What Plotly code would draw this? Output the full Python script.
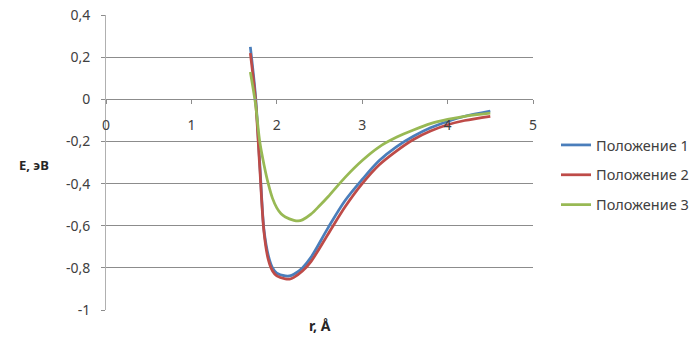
import plotly.graph_objects as go

# Data
r_1 = [1.69, 1.75, 1.80, 1.85, 1.90, 1.95, 2.00, 2.10, 2.15, 2.20, 2.30, 2.40, 2.60, 2.80, 3.00, 3.20, 3.40, 3.60, 3.80, 4.00, 4.20, 4.50]
e_1 = [0.25, 0.02, -0.30, -0.62, -0.74, -0.80, -0.825, -0.838, -0.838, -0.83, -0.80, -0.75, -0.61, -0.48, -0.38, -0.29, -0.225, -0.175, -0.135, -0.105, -0.08, -0.055]

r_2 = [1.69, 1.75, 1.80, 1.85, 1.90, 1.95, 2.00, 2.10, 2.15, 2.20, 2.30, 2.40, 2.60, 2.80, 3.00, 3.20, 3.40, 3.60, 3.80, 4.00, 4.20, 4.50]
e_2 = [0.22, 0.00, -0.32, -0.63, -0.76, -0.815, -0.838, -0.852, -0.853, -0.845, -0.815, -0.77, -0.64, -0.51, -0.40, -0.31, -0.245, -0.19, -0.15, -0.12, -0.10, -0.08]

r_3 = [1.69, 1.75, 1.80, 1.85, 1.90, 1.95, 2.00, 2.05, 2.10, 2.20, 2.25, 2.30, 2.40, 2.50, 2.60, 2.80, 3.00, 3.20, 3.40, 3.60, 3.80, 4.00, 4.20, 4.50]
e_3 = [0.13, -0.02, -0.20, -0.31, -0.40, -0.47, -0.515, -0.543, -0.558, -0.574, -0.577, -0.572, -0.545, -0.505, -0.462, -0.37, -0.29, -0.225, -0.18, -0.145, -0.115, -0.095, -0.08, -0.065]

series_names = ["Положение 1", "Положение 2", "Положение 3"]
series_colors = ["#4A7EBB", "#BE4B48", "#98B954"]

y_tick_vals = [0.4, 0.2, 0, -0.2, -0.4, -0.6, -0.8, -1]
y_tick_text = ["0,4", "0,2", "0", "-0,2", "-0,4", "-0,6", "-0,8", "-1"]
x_tick_vals = [0, 1, 2, 3, 4, 5]
x_tick_text = ["0", "1", "2", "3", "4", "5"]

x_title = "r, Å"
y_title = "E, эВ"

fig = go.Figure()
for i, (rx, ey) in enumerate([(r_1, e_1), (r_2, e_2), (r_3, e_3)]):
    fig.add_trace(go.Scatter(
        x=rx, y=ey, mode="lines", name=series_names[i],
        line=dict(color=series_colors[i], width=2.75, shape="spline", smoothing=0.9),
        legendgroup=f"g{i}",
    ))

font_family = "Noto Sans, Open Sans, sans-serif"
grid_col = "#8c8c8c"
text_col = "#404040"

W, H = 700, 339
L, R, T, B = 106, 167, 15, 29
pw, ph = W - L - R, H - T - B

def px_x(page_x):
    return (page_x - L) / pw

def px_y(page_y):
    return (H - B - page_y) / ph

fig.update_layout(
    width=W, height=H,
    margin=dict(l=L, r=R, t=T, b=B, autoexpand=False),
    paper_bgcolor="white", plot_bgcolor="white",
    font=dict(family=font_family, size=14, color=text_col),
    showlegend=True,
    legend=dict(
        x=px_x(556), xanchor="left", y=px_y(129), yanchor="top",
        itemwidth=30, tracegroupgap=8,
        font=dict(size=14.5, color=text_col),
        bgcolor="rgba(0,0,0,0)",
    ),
    xaxis=dict(
        range=[0, 5], tickvals=x_tick_vals, ticktext=x_tick_text,
        showgrid=False, zeroline=False,
        showline=True, linecolor=grid_col, linewidth=1,
        anchor="free", position=(0 - (-1)) / (0.401 - (-1)),
        ticks="outside", ticklen=4, tickcolor=grid_col,
        ticklabelstandoff=9,
        tickfont=dict(size=14, color=text_col),
        fixedrange=True, automargin=False,
    ),
    yaxis=dict(
        range=[-1, 0.401], tickvals=y_tick_vals, ticktext=y_tick_text,
        showgrid=True, gridcolor=grid_col, gridwidth=1,
        zeroline=False,
        showline=True, linecolor="#b0b0b0", linewidth=1,
        ticks="outside", ticklen=4, tickcolor=grid_col,
        ticklabelstandoff=8, ticklabeloverflow="allow",
        tickfont=dict(size=14, color=text_col),
        fixedrange=True, automargin=False,
    ),
    annotations=[
        dict(text=f"<b>{x_title}</b>", xref="paper", yref="paper",
             x=px_x(320), y=px_y(325), showarrow=False,
             xanchor="center", yanchor="middle", font=dict(size=14, color="#262626")),
        dict(text=f"<b>{y_title}</b>", xref="paper", yref="paper",
             x=px_x(34), y=px_y(165), showarrow=False,
             xanchor="center", yanchor="middle", font=dict(size=13, color="#262626")),
    ],
)

fig.write_html(
    "out.html",
    config={"displayModeBar": False},
    post_script="document.body.style.margin='0px';document.body.style.padding='0px';",
)
